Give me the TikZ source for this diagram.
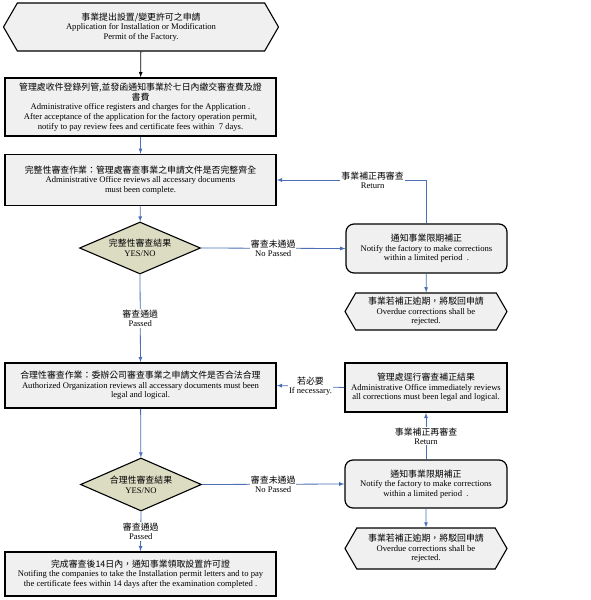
\documentclass[tikz,border=0pt]{standalone}
\usepackage{fontspec}
\setmainfont{Liberation Serif}
\newfontfamily\cjk{Noto Sans CJK TC}
\usepackage{xcolor}
\usepackage{tikz}
\usetikzlibrary{shapes,arrows,positioning,calc}
\definecolor{boxfill}{HTML}{F0F0F0}
\definecolor{checkfill}{HTML}{DCDCC3}
\definecolor{flowblue}{HTML}{4A6FB5}
\newcommand{\zh}[1]{{\cjk\fontsize{8.9}{9.6}\selectfont #1}}

\begin{document}
\begin{tikzpicture}[
    x=1pt, y=1pt,
    block/.style={draw=black, fill=boxfill, align=center, inner sep=1pt, font=\fontsize{8.6}{9.6}\selectfont},
    hexa/.style={block, signal, signal to=west and east, signal pointer angle=120, line width=1.1pt, minimum width=162pt},
    process/.style={block, rectangle, line width=1.6pt, minimum width=271pt},
    notify/.style={block, rectangle, rounded corners=8pt, line width=1.2pt, minimum width=161pt, minimum height=49pt},
    check/.style={block, diamond, fill=checkfill, aspect=2.3, inner sep=0pt, line width=1.1pt, minimum width=121pt, minimum height=52pt},
    edgelabel/.style={fill=white, text=black, inner sep=1pt, align=center, font=\fontsize{8.6}{9}\selectfont},
    arrow/.style={-latex, flowblue, line width=0.8pt}
]
    \useasboundingbox (0,0) rectangle (591,-600);

    % Nodes
    \node[hexa, minimum width=275pt, minimum height=48pt] (apply) at (141,-27)
        {\zh{事業提出設置/變更許可之申請}\\Application for Installation  or Modification\\Permit of the Factory.};
    \node[process, minimum height=58pt] (register) at (140.5,-107)
        {\zh{管理處收件登錄列管,並發函通知事業於七日內繳交審查費及證}\\\zh{書費}\\Administrative office registers and charges for the Application .\\After acceptance of the application for  the factory operation permit,\\notify to pay review fees and certificate fees within  \ 7 days.};
    \node[process, minimum height=51pt] (complete) at (140.5,-180)
        {\zh{完整性審查作業：管理處審查事業之申請文件是否完整齊全}\\Administrative Office reviews all accessary documents\\must been complete.};
    \node[check] (check1) at (140,-248) {\zh{完整性審查結果}\\YES/NO};

    \node[notify] (notify1) at (426.5,-248.5)
        {\zh{通知事業限期補正}\\Notify the factory to make corrections\\within a limited period  \ .};
    \node[hexa, minimum height=37pt] (reject1) at (426,-311.5)
        {\zh{事業若補正逾期，將駁回申請}\\Overdue corrections shall be\\rejected.};

    \node[process, minimum height=45pt] (review) at (140.5,-385.5)
        {\zh{合理性審查作業：委辦公司審查事業之申請文件是否合法合理}\\Authorized Organization reviews all accessary documents must been\\legal and logical.};
    \node[process, minimum width=162pt, minimum height=49pt] (recheck) at (426,-387.5)
        {\zh{管理處逕行審查補正結果}\\Administrative Office immediately reviews\\all corrections must been legal and logical.};
    \node[check, minimum height=53pt] (check2) at (141,-484.5) {\zh{合理性審查結果}\\YES/NO};

    \node[notify, minimum width=162pt, minimum height=48pt] (notify2) at (426,-484)
        {\zh{通知事業限期補正}\\Notify the factory to make corrections\\within a limited period  \ .};
    \node[hexa, minimum height=41pt] (reject2) at (426,-548.5)
        {\zh{事業若補正逾期，將駁回申請}\\Overdue corrections shall be\\rejected.};

    \node[process, minimum height=44pt] (permit) at (140.5,-574)
        {\zh{完成審查後14日內，通知事業領取設置許可證}\\Notifing the companies to take the  Installation permit letters and to pay\\the certificate fees within  14 days after the examination completed .};

    % Edges
    \draw[arrow, black] (apply) -- (register);
    \draw[arrow] (register) -- (complete);
    \draw[arrow] (complete) -- (check1);
    \draw[arrow] (check1.east) -- node[edgelabel] {\zh{審查未通過}\\No Passed} (notify1.west);
    \draw[arrow] (notify1.north) |- node[edgelabel, pos=0.68] {\zh{事業補正再審查}\\Return} (complete.east);
    \draw[arrow] (notify1) -- (reject1);
    \draw[arrow] (check1.south) -- node[edgelabel] {\zh{審查通過}\\Passed} (review.north);

    \draw[arrow] (recheck.west) -- node[edgelabel] {\zh{若必要}\\If necessary.} (review.east);
    \draw[arrow] (notify2.north) -- node[edgelabel] {\zh{事業補正再審查}\\Return} (recheck.south);
    \draw[arrow] (review) -- (check2);
    \draw[arrow] (check2.east) -- node[edgelabel] {\zh{審查未通過}\\No Passed} (notify2.west);
    \draw[arrow] (notify2) -- (reject2);
    \draw[arrow] (check2.south) -- node[edgelabel] {\zh{審查通過}\\Passed} (permit.north);

\end{tikzpicture}
\end{document}
